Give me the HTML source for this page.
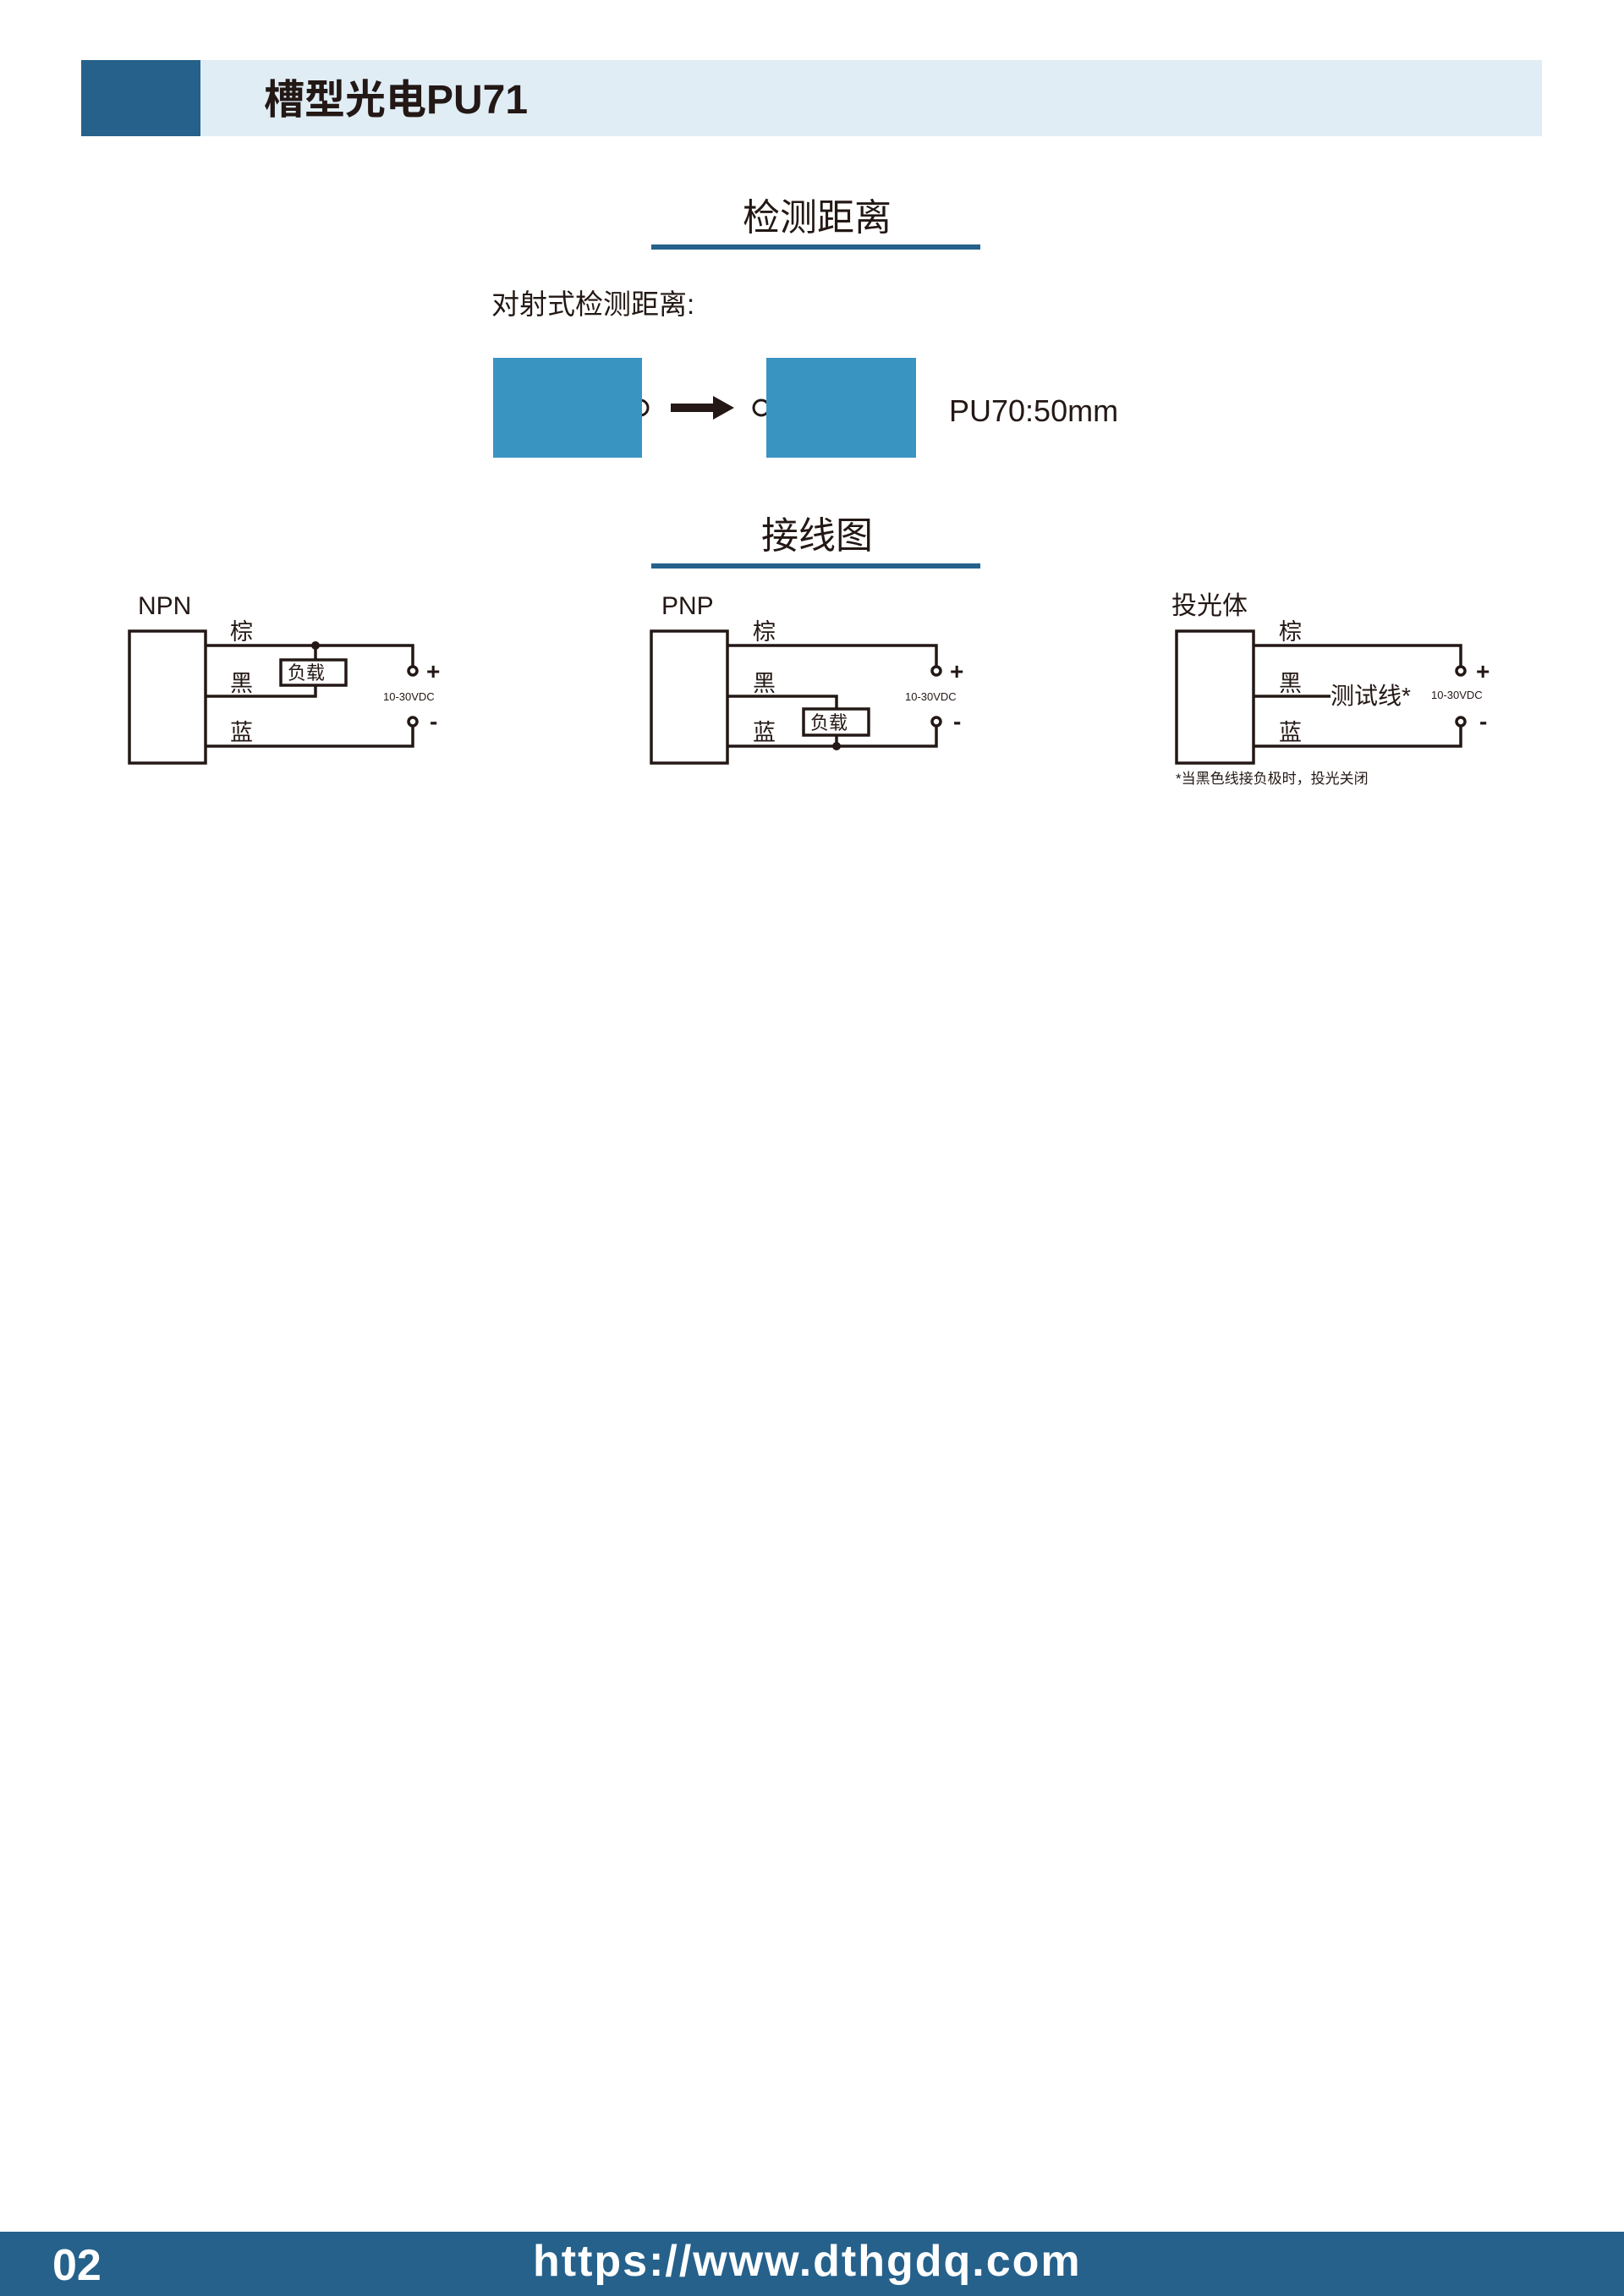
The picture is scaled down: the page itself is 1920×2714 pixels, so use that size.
<!DOCTYPE html>
<html><head><meta charset="utf-8"><style>
html,body{margin:0;padding:0;background:#fff;}
svg{display:block;}
text{font-family:"Liberation Sans","Noto Sans CJK SC",sans-serif;fill:#231815;}
</style></head><body>
<svg width="1920" height="2714" viewBox="0 0 1920 2714" xmlns="http://www.w3.org/2000/svg">
<rect x="96" y="71" width="1727" height="90" fill="#e0edf5"/>
<rect x="96" y="71" width="141" height="90" fill="#25618b"/>
<text x="312" y="134" font-size="48" font-weight="bold">槽型光电PU71</text>

<text x="966" y="272" font-size="44" text-anchor="middle">检测距离</text>
<rect x="770" y="289" width="389" height="6" fill="#25618b"/>
<text x="581" y="371" font-size="33">对射式检测距离:</text>

<circle cx="757" cy="482" r="9" fill="none" stroke="#231815" stroke-width="3"/>
<circle cx="900" cy="482" r="9" fill="none" stroke="#231815" stroke-width="3"/>
<rect x="583" y="423" width="176" height="118" fill="#3a94c2"/>
<rect x="906" y="423" width="177" height="118" fill="#3a94c2"/>
<rect x="793" y="477" width="52" height="10" fill="#231815"/>
<polygon points="843,468 868,482 843,496" fill="#231815"/>
<text x="1122" y="498" font-size="36">PU70:50mm</text>

<text x="966" y="648" font-size="44" text-anchor="middle">接线图</text>
<rect x="770" y="666" width="389" height="6" fill="#25618b"/>

<g stroke="#231815" stroke-width="3.5" fill="none">
 <rect x="153" y="746" width="90" height="156"/>
 <polyline points="243,763 488,763 488,788"/>
 <polyline points="243,823 373,823 373,810"/>
 <line x1="373" y1="763" x2="373" y2="780"/>
 <rect x="332" y="780" width="77" height="30"/>
 <polyline points="243,882 488,882 488,858"/>
 <circle cx="488" cy="793" r="5"/>
 <circle cx="488" cy="853" r="5"/>
 <rect x="770" y="746" width="90" height="156"/>
 <polyline points="860,763 1107,763 1107,788"/>
 <polyline points="860,823 989,823 989,838"/>
 <rect x="950" y="838" width="77" height="31"/>
 <line x1="989" y1="869" x2="989" y2="882"/>
 <polyline points="860,882 1107,882 1107,858"/>
 <circle cx="1107" cy="793" r="5"/>
 <circle cx="1107" cy="853" r="5"/>
 <rect x="1391" y="746" width="91" height="156"/>
 <polyline points="1482,763 1727,763 1727,788"/>
 <line x1="1482" y1="823" x2="1573" y2="823"/>
 <polyline points="1482,882 1727,882 1727,858"/>
 <circle cx="1727" cy="793" r="5"/>
 <circle cx="1727" cy="853" r="5"/>
</g>
<circle cx="373" cy="763" r="5" fill="#231815"/>
<circle cx="989" cy="882" r="5" fill="#231815"/>

<g font-size="27">
 <text x="163" y="726" font-size="30">NPN</text>
 <text x="272" y="756">棕</text><text x="272" y="817">黑</text><text x="272" y="875">蓝</text>
 <text x="340" y="803" font-size="22">负载</text>
 <text x="782" y="726" font-size="30">PNP</text>
 <text x="890" y="756">棕</text><text x="890" y="817">黑</text><text x="890" y="875">蓝</text>
 <text x="958" y="862" font-size="22">负载</text>
 <text x="1385" y="726" font-size="30">投光体</text>
 <text x="1512" y="756">棕</text><text x="1512" y="817">黑</text><text x="1512" y="875">蓝</text>
 <text x="1573" y="832" font-size="28">测试线*</text>
 <text x="1390" y="926" font-size="17">*当黑色线接负极时，投光关闭</text>
</g>
<g font-size="28" font-weight="bold">
 <text x="504" y="803">+</text><text x="508" y="862">-</text>
 <text x="1123" y="803">+</text><text x="1127" y="862">-</text>
 <text x="1745" y="803">+</text><text x="1749" y="862">-</text>
</g>
<g font-size="13">
 <text x="453" y="828">10-30VDC</text>
 <text x="1070" y="828">10-30VDC</text>
 <text x="1692" y="826">10-30VDC</text>
</g>

<rect x="0" y="2638" width="1920" height="76" fill="#25618b"/>
<text x="62" y="2695" font-size="52" font-weight="bold" style="fill:#fff">02</text>
<text x="630" y="2690" font-size="52" font-weight="bold" letter-spacing="2" style="fill:#fff">https://www.dthgdq.com</text>
</svg>
</body></html>
